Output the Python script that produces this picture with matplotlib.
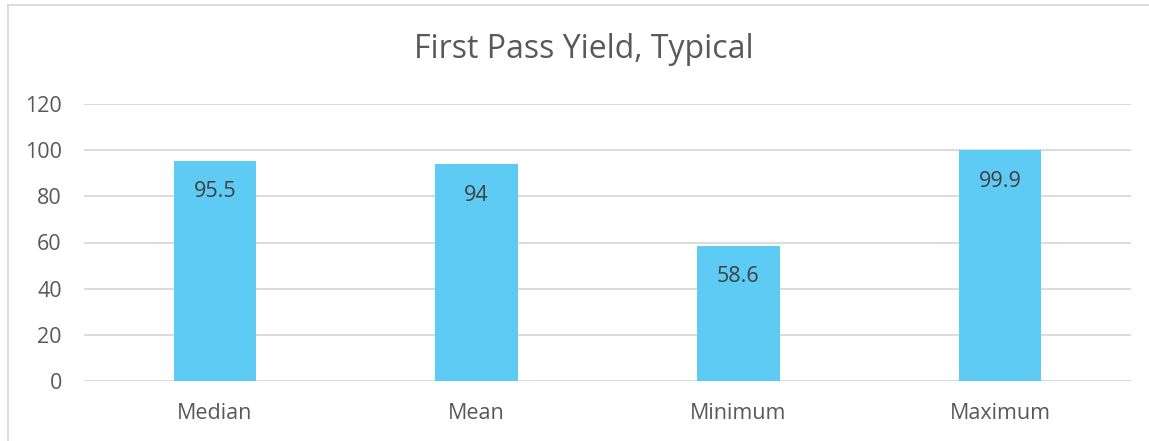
import matplotlib.pyplot as plt
from matplotlib.lines import Line2D

categories = ["Median", "Mean", "Minimum", "Maximum"]
values = [95.5, 94, 58.6, 99.9]
value_labels = ["95.5", "94", "58.6", "99.9"]
yticks = [0, 20, 40, 60, 80, 100, 120]

W, H = 1149, 441
fig = plt.figure(figsize=(W / 100, H / 100), dpi=100)
plt.rcParams['font.family'] = ['Open Sans', 'DejaVu Sans']

# plot area in pixels: x 84..1131, y 104..381
ax = fig.add_axes([84 / W, 1 - 381 / H, (1131 - 84) / W, (381 - 104) / H])

text_col = "#595959"
grid_col = "#D9D9D9"
bar_col = "#5DCBF3"

x = range(len(categories))
bars = ax.bar(x, values, width=0.315, color=bar_col, zorder=3)
for b, lab in zip(bars, value_labels):
    ax.annotate(lab, (b.get_x() + b.get_width() / 2, b.get_height()),
                xytext=(0, -31), textcoords="offset pixels",
                ha="center", va="center", fontsize=15.5, color="#404040", zorder=4)

ax.set_xlim(-0.5, len(categories) - 0.5)
ax.set_ylim(0, 120)
ax.set_yticks(yticks)
ax.set_xticks(list(x))
ax.set_xticklabels(categories)
ax.tick_params(axis="both", length=0, labelsize=15.5, labelcolor=text_col)
ax.tick_params(axis="y", pad=16)
ax.tick_params(axis="x", pad=16)
ax.grid(axis="y", color=grid_col, linewidth=1.3, zorder=0)
for s in ax.spines.values():
    s.set_visible(False)

fig.text(584 / W, 1 - 49 / H, "First Pass Yield, Typical", ha="center", va="center",
         fontsize=23, color=text_col)

# chart border (top and left visible)
fig.add_artist(Line2D([8 / W, 1], [1 - 5 / H, 1 - 5 / H], color="#D9D9D9", linewidth=1.3,
                      transform=fig.transFigure))
fig.add_artist(Line2D([8 / W, 8 / W], [0, 1 - 5 / H], color="#D9D9D9", linewidth=1.3,
                      transform=fig.transFigure))

fig.savefig("out.png", dpi=100)
